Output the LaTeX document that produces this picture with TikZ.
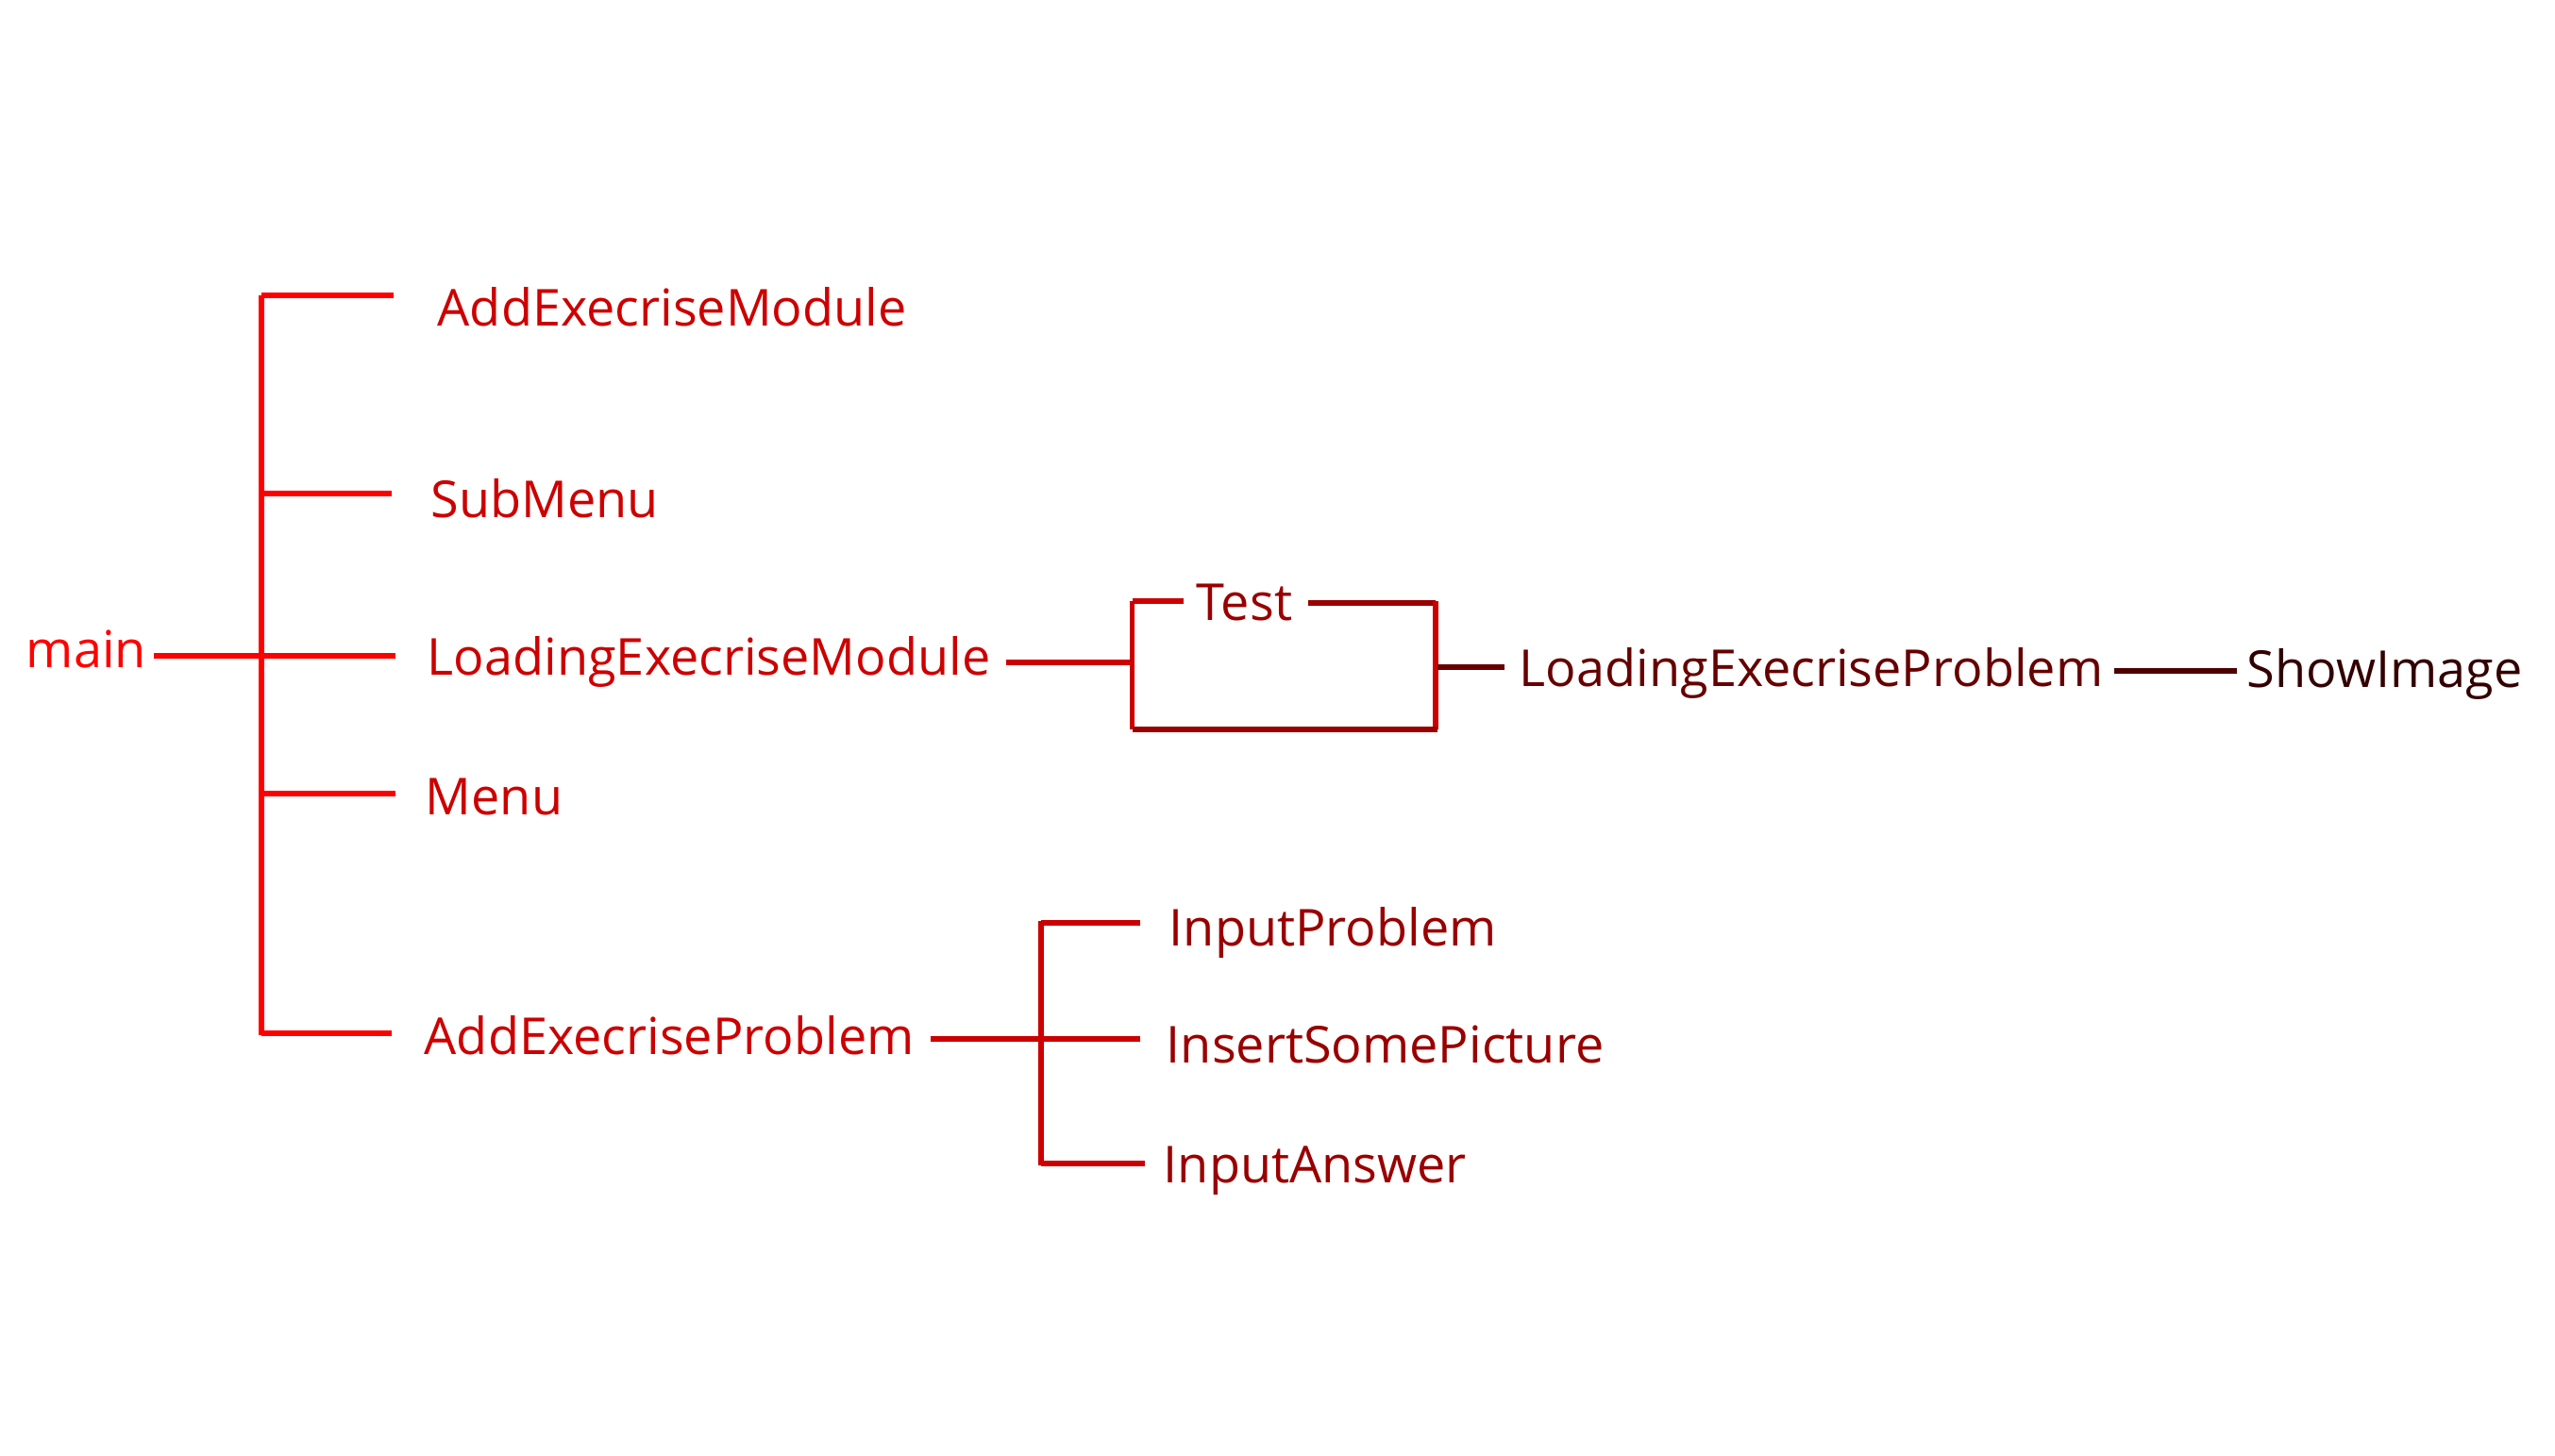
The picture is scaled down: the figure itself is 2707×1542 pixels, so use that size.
\documentclass[tikz,border=0pt]{standalone}
\usepackage{fontspec}
\setmainfont{Open Sans}
\definecolor{cRed}{HTML}{FF0000}
\definecolor{cA}{HTML}{CC0000}
\definecolor{cB}{HTML}{990000}
\definecolor{cC}{HTML}{660000}
\definecolor{cD}{HTML}{4D0000}
\definecolor{cE}{HTML}{330000}
\begin{document}
\begin{tikzpicture}[x=0.25pt,y=-0.25pt,
  lbl/.style={anchor=base west,inner sep=0pt,font=\fontsize{13.5pt}{16pt}\selectfont},
  wire/.style={line width=1.3pt}]
\useasboundingbox (0,0) rectangle (2707,1542);
% nodes
\node[lbl,text=cRed] (main) at (27,707) {main};
\node[lbl,text=cA] (aem) at (463,345) {AddExecriseModule};
\node[lbl,text=cA] (sub) at (456,548) {SubMenu};
\node[lbl,text=cA] (lem) at (452,715) {LoadingExecriseModule};
\node[lbl,text=cA] (menu) at (450,863) {Menu};
\node[lbl,text=cA] (aep) at (449,1117) {AddExecriseProblem};
\node[lbl,text=cB] (test) at (1267,657) {Test};
\node[lbl,text=cC] (lep) at (1609,727) {LoadingExecriseProblem};
\node[lbl,text=cE] (show) at (2380,728) {ShowImage};
\node[lbl,text=cB] (ip) at (1238,1002) {InputProblem};
\node[lbl,text=cB] (isp) at (1235,1126) {InsertSomePicture};
\node[lbl,text=cB] (ia) at (1232,1253) {InputAnswer};
% left tree
\coordinate (mL) at (163,695);
\coordinate (bT) at (277,313);
\coordinate (bB) at (277,1097);
\coordinate (b2) at (277,523);
\coordinate (b4) at (277,841);
\coordinate (b5) at (277,1095);
\coordinate (e1) at (417,313);
\coordinate (e2) at (415,523);
\coordinate (e3) at (419,695);
\coordinate (e4) at (419,841);
\coordinate (e5) at (415,1095);
\draw[wire,cRed] (bT) -- (bB);
\draw[wire,cRed] (bT) -- (e1);
\draw[wire,cRed] (b2) -- (e2);
\draw[wire,cRed] (mL) -- (e3);
\draw[wire,cRed] (b4) -- (e4);
\draw[wire,cRed] (b5) -- (e5);
% test box
\coordinate (lemR) at (1066,702);
\coordinate (boxL) at (1199.5,702);
\coordinate (boxTL) at (1199.5,637);
\coordinate (boxBL) at (1199.5,773);
\coordinate (boxTR) at (1521,637);
\coordinate (boxBR) at (1523,773);
\coordinate (tl1) at (1254,637);
\coordinate (tr0) at (1386,639);
\coordinate (tr1) at (1521,639);
\coordinate (boxR) at (1523,707);
\coordinate (lepL) at (1594,707);
\draw[wire,cA] (lemR) -- (boxL);
\draw[wire,cA] (boxTL) -- (boxBL);
\draw[wire,cA] (boxTL) -- (tl1);
\draw[wire,cB] (tr0) -- (tr1);
\draw[wire,cA] (boxTR) -- (1521,773);
\draw[wire,cB] (boxBL) -- (boxBR);
\draw[wire,cC] (boxR) -- (lepL);
\coordinate (lepR) at (2240,711);
\coordinate (showL) at (2370,711);
\draw[wire,cD] (lepR) -- (showL);
% AddExecriseProblem subtree
\coordinate (aepR) at (986,1101);
\coordinate (sT) at (1103,976);
\coordinate (sB) at (1103,1235);
\coordinate (sM) at (1103,1101);
\coordinate (s1) at (1103,978);
\coordinate (s3) at (1103,1233);
\coordinate (f1) at (1208,978);
\coordinate (f2) at (1208,1101);
\coordinate (f3) at (1213,1233);
\draw[wire,cA] (aepR) -- (f2);
\draw[wire,cA] (sT) -- (sB);
\draw[wire,cA] (s1) -- (f1);
\draw[wire,cA] (s3) -- (f3);
\end{tikzpicture}
\end{document}
